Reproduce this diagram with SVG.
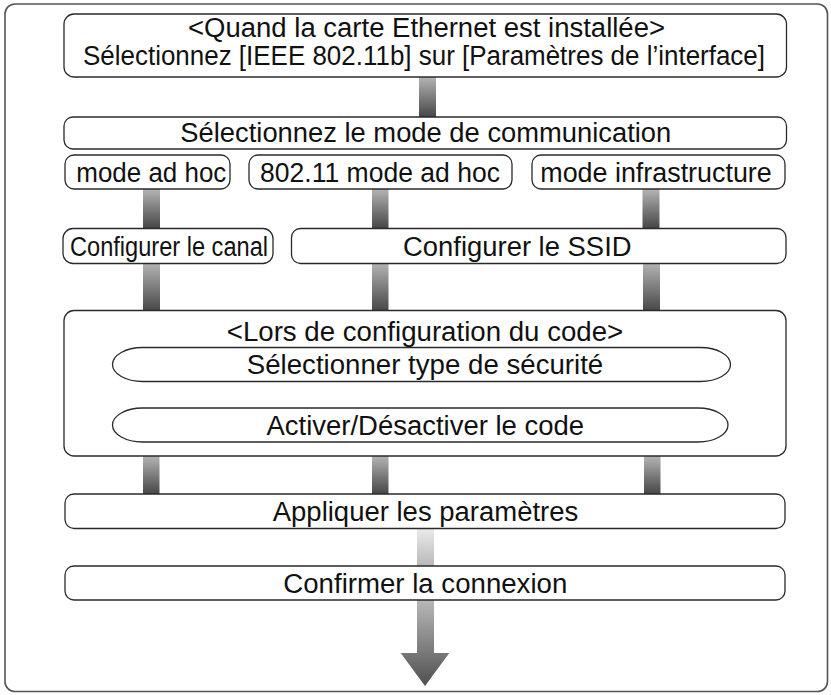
<svg xmlns="http://www.w3.org/2000/svg" width="831" height="695" viewBox="0 0 831 695">
<style>
.box{fill:#fff;stroke:#2a2a2a;stroke-width:1.3}
.t{font-family:"Liberation Sans",Arial,sans-serif;font-size:27px;fill:#111;text-anchor:middle}
.c{fill:url(#g)}
</style>
<defs>
<linearGradient id="g" x1="0" y1="0" x2="0" y2="1">
<stop offset="0" stop-color="#b4b4b4"/>
<stop offset="1" stop-color="#474747"/>
</linearGradient>
<linearGradient id="gl" x1="0" y1="0" x2="0" y2="1">
<stop offset="0" stop-color="#ececec"/>
<stop offset="1" stop-color="#b8b8b8"/>
</linearGradient>
<linearGradient id="ga" gradientUnits="userSpaceOnUse" x1="0" y1="600" x2="0" y2="686">
<stop offset="0" stop-color="#b8b8b8"/>
<stop offset="1" stop-color="#505050"/>
</linearGradient>
</defs>
<rect x="5" y="4" width="822.5" height="687.5" rx="10" fill="#fff" stroke="#555" stroke-width="1.6"/>
<g id="connectors">
<rect class="c" x="419" y="77" width="17" height="40"/>
<rect class="c" x="143" y="189" width="17" height="39"/>
<rect class="c" x="372" y="189" width="16.5" height="39"/>
<rect class="c" x="642.5" y="189" width="17" height="39"/>
<rect class="c" x="143" y="263" width="17" height="48"/>
<rect class="c" x="372" y="263" width="16.5" height="48"/>
<rect class="c" x="643" y="263" width="17" height="48"/>
<rect class="c" x="417" y="381" width="17" height="27"/>
<rect class="c" x="143" y="456" width="16.5" height="38"/>
<rect class="c" x="372" y="456" width="16.5" height="38"/>
<rect class="c" x="644" y="456" width="16.5" height="38"/>
<rect fill="url(#gl)" x="417" y="528" width="17" height="38"/>
<path fill="url(#ga)" d="M417 600H434V653H449.3L425 686L400.7 653H417Z"/>
</g>
<g id="n-ethernet">
<rect class="box" x="64" y="14" width="722.5" height="63" rx="10"/>
<text class="t" x="426.5" y="37" textLength="477" lengthAdjust="spacingAndGlyphs">&lt;Quand la carte Ethernet est installée&gt;</text>
<text class="t" x="424" y="65" textLength="682" lengthAdjust="spacingAndGlyphs">Sélectionnez [IEEE 802.11b] sur [Paramètres de l’interface]</text>
</g>
<g id="n-mode">
<rect class="box" x="64" y="117" width="722.5" height="32" rx="9"/>
<text class="t" x="425.8" y="142" textLength="491" lengthAdjust="spacingAndGlyphs">Sélectionnez le mode de communication</text>
</g>
<g id="n-adhoc">
<rect class="box" x="65" y="155" width="165" height="34" rx="9"/>
<text class="t" x="151.3" y="181.5" textLength="150" lengthAdjust="spacingAndGlyphs">mode ad hoc</text>
</g>
<g id="n-80211">
<rect class="box" x="249" y="155" width="263" height="34" rx="9"/>
<text class="t" x="380" y="181.5" textLength="240" lengthAdjust="spacingAndGlyphs">802.11 mode ad hoc</text>
</g>
<g id="n-infra">
<rect class="box" x="532" y="155" width="253" height="34" rx="9"/>
<text class="t" x="656" y="181.5" textLength="231.5" lengthAdjust="spacingAndGlyphs">mode infrastructure</text>
</g>
<g id="n-canal">
<rect class="box" x="63" y="228.5" width="210" height="35" rx="10"/>
<text class="t" x="169" y="256" textLength="198" lengthAdjust="spacingAndGlyphs">Configurer le canal</text>
</g>
<g id="n-ssid">
<rect class="box" x="291.5" y="228.5" width="494.5" height="35" rx="9"/>
<text class="t" x="517.3" y="256" textLength="228.5" lengthAdjust="spacingAndGlyphs">Configurer le SSID</text>
</g>
<g id="n-code">
<rect class="box" x="64" y="310.5" width="722" height="145.5" rx="10"/>
<text class="t" x="425" y="341" textLength="396.5" lengthAdjust="spacingAndGlyphs">&lt;Lors de configuration du code&gt;</text>
</g>
<g id="n-securite">
<rect class="box" x="112.5" y="347.5" width="618" height="34" rx="30" ry="17"/>
<text class="t" x="425" y="374" textLength="356.5" lengthAdjust="spacingAndGlyphs">Sélectionner type de sécurité</text>
</g>
<g id="n-activer">
<rect class="box" x="112.5" y="408" width="615.5" height="34" rx="30" ry="17"/>
<text class="t" x="425.3" y="434.5" textLength="317.5" lengthAdjust="spacingAndGlyphs">Activer/Désactiver le code</text>
</g>
<g id="n-appliquer">
<rect class="box" x="65" y="494" width="720" height="34.5" rx="9"/>
<text class="t" x="425.5" y="520.5" textLength="305.5" lengthAdjust="spacingAndGlyphs">Appliquer les paramètres</text>
</g>
<g id="n-confirmer">
<rect class="box" x="65" y="566" width="720" height="34" rx="9"/>
<text class="t" x="425.3" y="592.5" textLength="284" lengthAdjust="spacingAndGlyphs">Confirmer la connexion</text>
</g>
</svg>
